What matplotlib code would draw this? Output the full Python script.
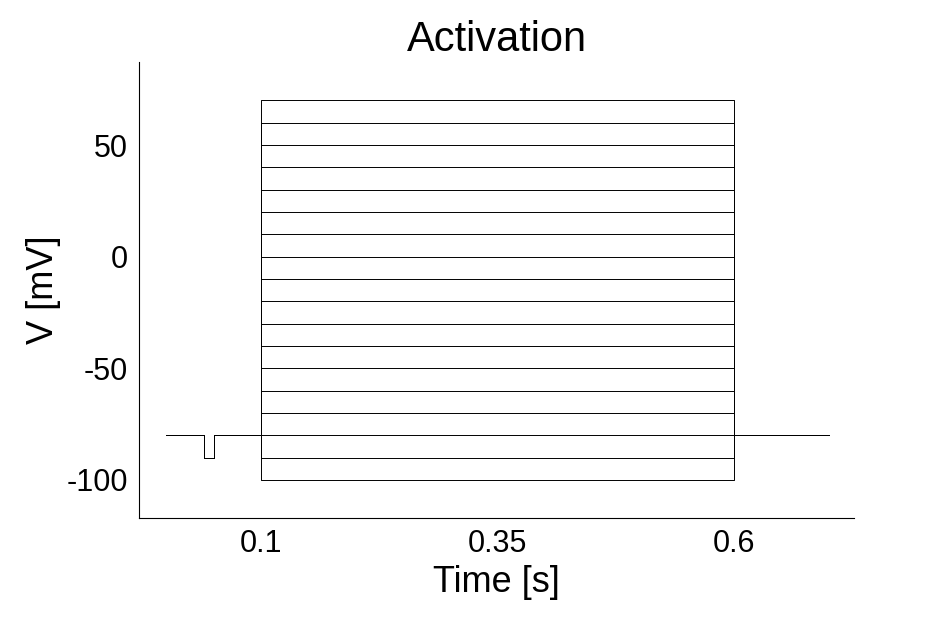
import numpy as np
import matplotlib as mpl
mpl.use('Agg')
import matplotlib.pyplot as plt

plt.rcParams['font.family'] = ['Liberation Sans', 'DejaVu Sans']
plt.rcParams['axes.unicode_minus'] = False

# protocol
hold_v = -80
prepulse_v = -90
step_levels = list(range(-100, 71, 10))
t_prepulse = (0.04, 0.05)
t_step = (0.1, 0.6)
t_end = 0.7

fig = plt.figure(figsize=(9.45, 6.24), dpi=100)
ax = fig.add_axes([0.147, 0.17, 0.757, 0.73])

for v in step_levels:
    t = [0, t_prepulse[0], t_prepulse[0], t_prepulse[1], t_prepulse[1],
         t_step[0], t_step[0], t_step[1], t_step[1], t_end]
    V = [hold_v, hold_v, prepulse_v, prepulse_v, hold_v,
         hold_v, v, v, hold_v, hold_v]
    ax.plot(t, V, color='black', lw=0.7)

ax.set_xlim(-0.029, 0.727)
ax.set_ylim(-117, 87)
ax.set_xticks([0.1, 0.35, 0.6])
ax.set_xticklabels(['0.1', '0.35', '0.6'])
ax.set_yticks([50, 0, -50, -100])
ax.tick_params(length=0, labelsize=22, pad=8)
for s in ['top', 'right']:
    ax.spines[s].set_visible(False)
ax.set_xlabel('Time [s]', fontsize=26)
ax.set_ylabel('V [mV]', fontsize=26)
ax.set_title('Activation', fontsize=30, pad=8)
fig.savefig('out.png')
